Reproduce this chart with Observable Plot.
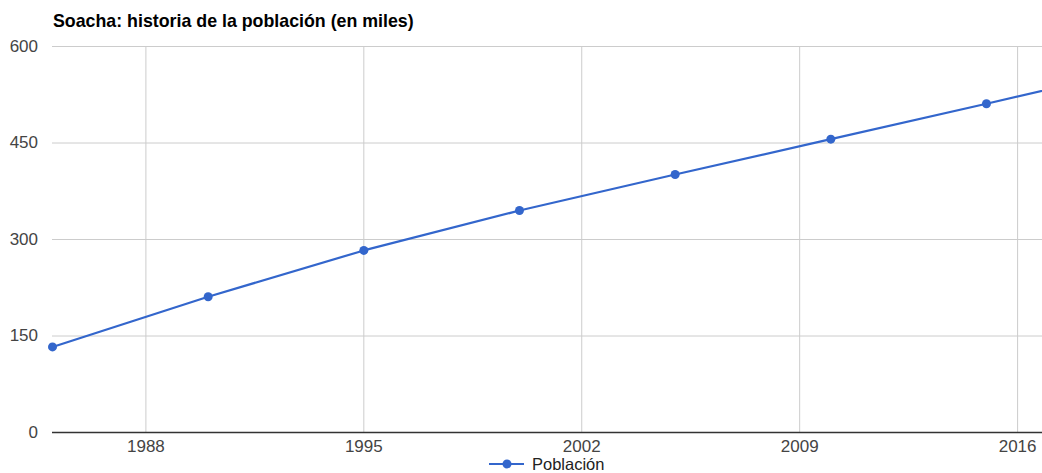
<!DOCTYPE html>
<html>
<head>
<meta charset="utf-8">
<script src="https://cdn.jsdelivr.net/npm/d3@7"></script>
<script src="https://cdn.jsdelivr.net/npm/@observablehq/plot@0.6"></script>
<style>
  body { margin: 0; background: #fff; font-family: "Liberation Sans", Arial, sans-serif; }
  #wrap { width: 1042px; height: 473px; position: relative; overflow: hidden; }
  #title { height: 36px; box-sizing: border-box; padding: 11px 0 0 53px; font-weight: bold; font-size: 17.8px; line-height: 20px; color: #000; white-space: nowrap; }
  #legend { position: absolute; left: 489px; top: 456px; height: 16px; display: flex; align-items: center; font-size: 16.5px; line-height: 16px; color: #222; }
  #legend svg { margin-right: 8px; }
</style>
</head>
<body>
<div id="wrap">
  <div id="title">Soacha: historia de la población (en miles)</div>
  <div id="chart"></div>
  <div id="legend"><svg width="35" height="12"><line x1="0" y1="6" x2="35" y2="6" stroke="#3366cc" stroke-width="2"/><circle cx="18" cy="6" r="4.5" fill="#3366cc"/></svg><span>Población</span></div>
</div>
<script>
const years = [1985, 1990, 1995, 2000, 2005, 2010, 2015, 2020];
const population = [133, 211, 283, 345, 401, 456, 511, 567];
const xTicks = [1988, 1995, 2002, 2009, 2016];
const yTicks = [0, 150, 300, 450, 600];
const seriesName = "Población";

const data = years.map((y, i) => ({year: y, value: population[i]}));

const chart = Plot.plot({
  width: 1042,
  height: 420,
  marginTop: 10,
  marginBottom: 24,
  marginLeft: 52,
  marginRight: 0,
  style: { fontFamily: "Liberation Sans, Arial, sans-serif", fontSize: "17px", color: "#444", background: "#fff", overflow: "visible" },
  x: { domain: [1985, 2016.8], ticks: xTicks, tickFormat: d => String(d), label: null },
  y: { domain: [0, 600], ticks: yTicks, label: null },
  marks: [
    Plot.gridX(xTicks, { stroke: "#cccccc", strokeOpacity: 1, strokeWidth: 1 }),
    Plot.gridY(yTicks, { stroke: "#cccccc", strokeOpacity: 1, strokeWidth: 1 }),
    Plot.axisX({ ticks: xTicks, tickSize: 0, tickPadding: 7, tickFormat: d => String(d), label: null, fill: "#444" }),
    Plot.axisY({ ticks: yTicks, tickSize: 0, tickPadding: 14.5, label: null, fill: "#444" }),
    Plot.ruleY([0], { stroke: "#333", strokeWidth: 1.5 }),
    Plot.line(data, { x: "year", y: "value", stroke: "#3366cc", strokeWidth: 2.2, clip: true }),
    Plot.dot(data, { x: "year", y: "value", fill: "#3366cc", r: 4.5 })
  ]
});
document.getElementById("chart").appendChild(chart);
</script>
</body>
</html>
